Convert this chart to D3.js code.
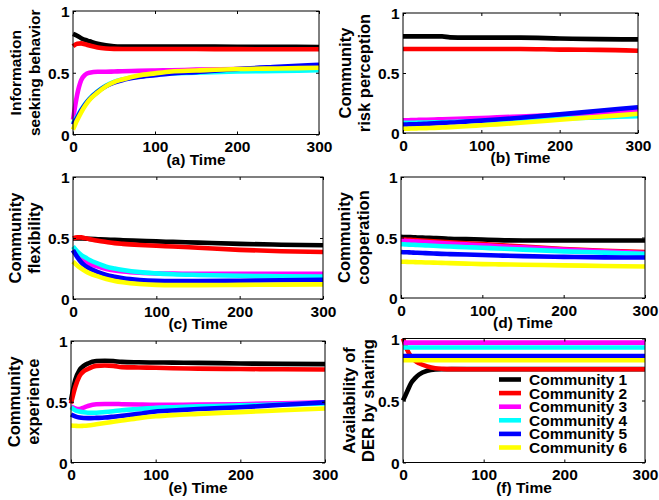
<!DOCTYPE html>
<html><head><meta charset="utf-8">
<script src="https://cdn.jsdelivr.net/npm/d3@7"></script>
<style>body{margin:0;background:#fff}svg{display:block}text{font-family:"Liberation Sans",Arial,sans-serif;font-weight:bold;fill:#000}</style>
</head><body><svg id="c" width="659" height="500"></svg>
<script>
// ---- data ----
const time = [0,5,10,15,20,30,40,50,60,80,100,120,150,200,250,300];
const communities = ["Community 1","Community 2","Community 3","Community 4","Community 5","Community 6"];
const xTicks = [0,100,200,300];
const yTicks = [0,0.5,1];
const yTickLabels = ["0","0.5","1"];

const infoSeeking = [
 [0.815,0.80,0.78,0.765,0.755,0.735,0.722,0.715,0.713,0.712,0.712,0.712,0.712,0.711,0.71,0.708],
 [0.715,0.735,0.738,0.73,0.72,0.705,0.697,0.693,0.692,0.692,0.692,0.692,0.692,0.691,0.69,0.69],
 [0.12,0.32,0.44,0.485,0.50,0.508,0.508,0.51,0.512,0.515,0.518,0.52,0.525,0.53,0.535,0.54],
 [0.09,0.145,0.2,0.25,0.29,0.35,0.395,0.425,0.445,0.47,0.485,0.495,0.50,0.51,0.515,0.52],
 [0.08,0.135,0.195,0.245,0.285,0.345,0.39,0.42,0.44,0.465,0.48,0.495,0.505,0.53,0.548,0.565],
 [0.04,0.115,0.18,0.235,0.28,0.34,0.39,0.425,0.445,0.478,0.495,0.51,0.518,0.53,0.535,0.54]
];
const riskPerception = [
 [0.805,0.805,0.805,0.805,0.805,0.805,0.805,0.805,0.797,0.795,0.795,0.795,0.795,0.788,0.782,0.78],
 [0.70,0.70,0.70,0.70,0.70,0.70,0.70,0.70,0.70,0.70,0.70,0.70,0.70,0.695,0.693,0.685],
 [0.105,0.106,0.107,0.108,0.109,0.111,0.113,0.115,0.117,0.121,0.125,0.13,0.138,0.152,0.166,0.18],
 [0.085,0.085,0.086,0.086,0.087,0.088,0.089,0.09,0.092,0.096,0.10,0.104,0.11,0.12,0.13,0.14],
 [0.07,0.071,0.072,0.073,0.074,0.077,0.08,0.084,0.087,0.095,0.103,0.112,0.127,0.155,0.185,0.215],
 [0.035,0.036,0.037,0.038,0.039,0.041,0.043,0.046,0.049,0.056,0.064,0.072,0.085,0.11,0.135,0.16]
];
const flexibility = [
 [0.497,0.497,0.496,0.495,0.493,0.49,0.487,0.485,0.482,0.477,0.472,0.468,0.462,0.452,0.445,0.44],
 [0.497,0.505,0.505,0.497,0.49,0.477,0.467,0.458,0.452,0.443,0.436,0.43,0.42,0.403,0.392,0.385],
 [0.40,0.36,0.33,0.31,0.29,0.265,0.245,0.233,0.225,0.215,0.21,0.208,0.207,0.207,0.207,0.207],
 [0.43,0.39,0.36,0.34,0.32,0.29,0.265,0.25,0.238,0.22,0.21,0.203,0.197,0.19,0.187,0.185],
 [0.40,0.345,0.30,0.27,0.25,0.22,0.197,0.182,0.17,0.156,0.149,0.147,0.147,0.15,0.154,0.158],
 [0.306,0.275,0.25,0.228,0.21,0.185,0.164,0.148,0.137,0.123,0.116,0.114,0.114,0.116,0.118,0.12]
];
const cooperation = [
 [0.505,0.504,0.503,0.502,0.50,0.498,0.496,0.494,0.49,0.487,0.483,0.478,0.475,0.475,0.475,0.475],
 [0.485,0.483,0.481,0.479,0.477,0.473,0.469,0.465,0.461,0.453,0.445,0.437,0.425,0.405,0.39,0.38],
 [0.475,0.473,0.47,0.468,0.466,0.462,0.458,0.454,0.45,0.443,0.436,0.428,0.418,0.40,0.385,0.372],
 [0.445,0.443,0.441,0.44,0.438,0.435,0.432,0.428,0.425,0.42,0.415,0.409,0.40,0.385,0.375,0.365],
 [0.38,0.378,0.377,0.375,0.374,0.371,0.368,0.365,0.363,0.359,0.355,0.351,0.346,0.34,0.336,0.335],
 [0.30,0.299,0.298,0.297,0.296,0.294,0.292,0.29,0.288,0.284,0.28,0.278,0.275,0.27,0.265,0.26]
];
const experience = [
 [0.51,0.68,0.76,0.795,0.815,0.835,0.838,0.835,0.828,0.825,0.823,0.822,0.82,0.815,0.812,0.81],
 [0.485,0.62,0.71,0.75,0.77,0.795,0.798,0.795,0.785,0.782,0.78,0.776,0.773,0.77,0.767,0.765],
 [0.46,0.445,0.44,0.452,0.465,0.48,0.482,0.482,0.48,0.477,0.475,0.475,0.476,0.48,0.488,0.495],
 [0.455,0.43,0.42,0.413,0.41,0.41,0.415,0.422,0.43,0.44,0.45,0.455,0.462,0.47,0.478,0.485],
 [0.395,0.38,0.37,0.366,0.365,0.367,0.37,0.377,0.385,0.40,0.42,0.428,0.44,0.455,0.475,0.495],
 [0.305,0.302,0.30,0.302,0.305,0.315,0.325,0.335,0.345,0.365,0.38,0.39,0.40,0.415,0.43,0.445]
];
const derSharing = [
 [0.50,0.57,0.64,0.68,0.71,0.74,0.75,0.752,0.753,0.753,0.753,0.753,0.753,0.753,0.753,0.753],
 [1.0,0.91,0.855,0.82,0.80,0.775,0.76,0.755,0.753,0.752,0.752,0.752,0.752,0.752,0.752,0.752],
 [0.967,0.967,0.967,0.967,0.967,0.967,0.967,0.967,0.967,0.967,0.967,0.967,0.967,0.967,0.967,0.967],
 [0.927,0.927,0.927,0.927,0.927,0.927,0.927,0.927,0.927,0.927,0.927,0.927,0.927,0.927,0.927,0.927],
 [0.859,0.859,0.859,0.859,0.859,0.859,0.859,0.859,0.859,0.859,0.859,0.859,0.859,0.859,0.859,0.859],
 [0.824,0.824,0.824,0.824,0.824,0.824,0.824,0.824,0.824,0.824,0.824,0.824,0.824,0.824,0.824,0.824]
];
const panelData = [infoSeeking, riskPerception, flexibility, cooperation, experience, derSharing];
const yLabels = [["Information","seeking behavior"],["Community","risk perception"],["Community","flexibility"],["Community","cooperation"],["Community","experience"],["Availability of","DER by sharing"]];
const xLabels = ["(a) Time","(b) Time","(c) Time","(d) Time","(e) Time","(f) Time"];

// ---- styles / layout ----
const colors = ["#000000","#ff0000","#ff00ff","#00ffff","#0000ff","#ffff00"];
const layout = [
 {x0:73,x1:319,y0:11,y1:134.5,l1:52,l2:33,lf:15.5},
 {x0:403,x1:638,y0:13,y1:133,l1:52,l2:33,lf:16.5},
 {x0:73,x1:323,y0:177,y1:299,l1:52,l2:33,lf:16.5},
 {x0:401,x1:645,y0:177,y1:298,l1:51,l2:32,lf:16.5},
 {x0:71,x1:325,y0:341,y1:462.5,l1:51,l2:32,lf:16.5},
 {x0:403,x1:645,y0:338.5,y1:462.5,l1:48,l2:29,lf:16.5}
];
const FS = 15.5, LW = 4.6;
const svg = d3.select("#c");

panelData.forEach((series, p) => {
  const L = layout[p];
  const x = d3.scaleLinear().domain([0,300]).range([L.x0, L.x1]);
  const y = d3.scaleLinear().domain([0,1]).range([L.y1, L.y0]);
  const g = svg.append("g");
  const line = d3.line().x((d,i)=>x(time[i])).y(d=>y(d)).curve(d3.curveMonotoneX);
  series.forEach((vals, k) => {
    g.append("path").attr("d", line(vals)).attr("fill","none")
      .attr("stroke", colors[k]).attr("stroke-width", LW).attr("stroke-linejoin","round");
  });
  // box
  g.append("rect").attr("x",L.x0).attr("y",L.y0).attr("width",L.x1-L.x0).attr("height",L.y1-L.y0)
    .attr("fill","none").attr("stroke","#000").attr("stroke-width",1);
  // axes via d3 axis generators (inward ticks)
  const ax = d3.axisBottom(x).tickValues(xTicks).tickSize(-3).tickPadding(6).tickFormat(d3.format("d"));
  const axT = d3.axisTop(x).tickValues(xTicks).tickSize(-3).tickFormat("");
  const ay = d3.axisLeft(y).tickValues(yTicks).tickSize(-3).tickPadding(6).tickFormat((d,i)=>yTickLabels[i]);
  const ayR = d3.axisRight(y).tickValues(yTicks).tickSize(-3).tickFormat("");
  const gx = g.append("g").attr("transform",`translate(0,${L.y1})`).call(ax);
  const gxt = g.append("g").attr("transform",`translate(0,${L.y0})`).call(axT);
  const gy = g.append("g").attr("transform",`translate(${L.x0},0)`).call(ay);
  const gyr = g.append("g").attr("transform",`translate(${L.x1},0)`).call(ayR);
  [gx,gxt,gy,gyr].forEach(a => { a.select(".domain").remove(); a.selectAll("line").attr("stroke","#000"); });
  gx.selectAll("text").attr("font-size",FS).attr("font-family",null).attr("dy",null).attr("y",17.5).style("dominant-baseline","auto");
  gy.selectAll("text").attr("font-size",FS).attr("font-family",null).attr("x",-3.5).attr("dy","0.36em");
  // x label
  g.append("text").attr("x",(L.x0+L.x1)/2).attr("y",L.y1+30).attr("text-anchor","middle")
    .attr("font-size",FS).text(xLabels[p]);
  // y label (two lines)
  const cy = (L.y0+L.y1)/2;
  [L.l1, L.l2].forEach((off, j) => {
    g.append("text").attr("transform",`translate(${L.x0-off},${cy}) rotate(-90)`)
      .attr("text-anchor","middle").attr("font-size",L.lf).text(yLabels[p][j]);
  });
});

// legend in panel f
const leg = svg.append("g");
communities.forEach((name, k) => {
  const yy = 379.5 + k*13.6;
  leg.append("line").attr("x1",499).attr("x2",521).attr("y1",yy).attr("y2",yy)
    .attr("stroke",colors[k]).attr("stroke-width",LW);
  leg.append("text").attr("x",529).attr("y",yy).attr("dy","0.36em").attr("font-size",FS).text(name);
});
</script></body></html>
